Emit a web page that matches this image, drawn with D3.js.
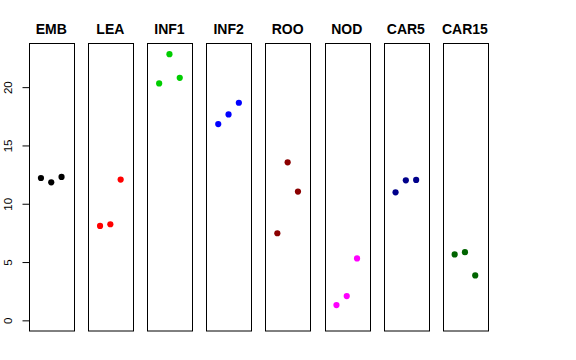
<!DOCTYPE html>
<html><head><meta charset="utf-8">
<script src="https://cdn.jsdelivr.net/npm/d3@7"></script>
<style>body{margin:0;background:#fff}svg{display:block}</style>
</head><body>
<svg id="c" width="576" height="360"></svg>
<script>
const categories = ["EMB","LEA","INF1","INF2","ROO","NOD","CAR5","CAR15"];
const colors = ["#000000","#FF0000","#00CD00","#0000FF","#8B0000","#FF00FF","#00008B","#006400"];
const values = [
  [12.21, 11.84, 12.30],
  [8.10, 8.24, 12.07],
  [20.32, 22.83, 20.80],
  [16.83, 17.66, 18.66],
  [7.47, 13.55, 11.04],
  [1.31, 2.08, 5.31],
  [10.98, 12.01, 12.04],
  [5.65, 5.85, 3.85]
];
const yTicks = [0, 5, 10, 15, 20];

(function(){
const svg = d3.select("#c");
const pTop = 43.5, pBottom = 331, pw = 44.5, pitch = 59.1, left0 = 29;
const ymax = d3.max(values.flat());
const y = d3.scaleLinear().domain([-0.04*ymax, ymax*1.04]).range([pBottom, pTop]);
const x = d3.scaleLinear().domain([-0.16, 4.16]);

categories.forEach((cat, i) => {
  const x0 = left0 + i*pitch;
  x.range([x0, x0+pw]);
  const g = svg.append("g");
  g.append("rect").attr("x", Math.round(x0)+0.5).attr("y", pTop)
    .attr("width", Math.round(pw)).attr("height", pBottom-pTop)
    .attr("fill","none").attr("stroke","#000").attr("stroke-width",1);
  g.append("text").attr("x", x0+pw/2).attr("y", 34).attr("text-anchor","middle")
    .attr("font-family","Liberation Sans, Arial, sans-serif").attr("font-weight","bold")
    .attr("font-size",14).text(cat);
  g.selectAll("circle").data(values[i]).join("circle")
    .attr("cx",(d,j)=>x(j+1)).attr("cy",d=>y(d)).attr("r",3.1).attr("fill",colors[i]);
});

const axis = d3.axisLeft(y).tickValues(yTicks).tickSize(7).tickPadding(3).tickFormat(d3.format("d"));
const ag = svg.append("g").attr("transform","translate(29.5,0)").call(axis);
ag.select(".domain").attr("d", `M0,${y(0)}V${y(20)}`).attr("stroke","#000");
ag.selectAll(".tick line").attr("stroke","#000");
ag.selectAll(".tick text")
  .attr("font-family","Liberation Sans, Arial, sans-serif").attr("font-size",11.5)
  .attr("fill","#000")
  .attr("text-anchor","middle").attr("x",0).attr("dy",0)
  .attr("transform","translate(-17.5,0) rotate(-90)");
})();
</script>
</body></html>
